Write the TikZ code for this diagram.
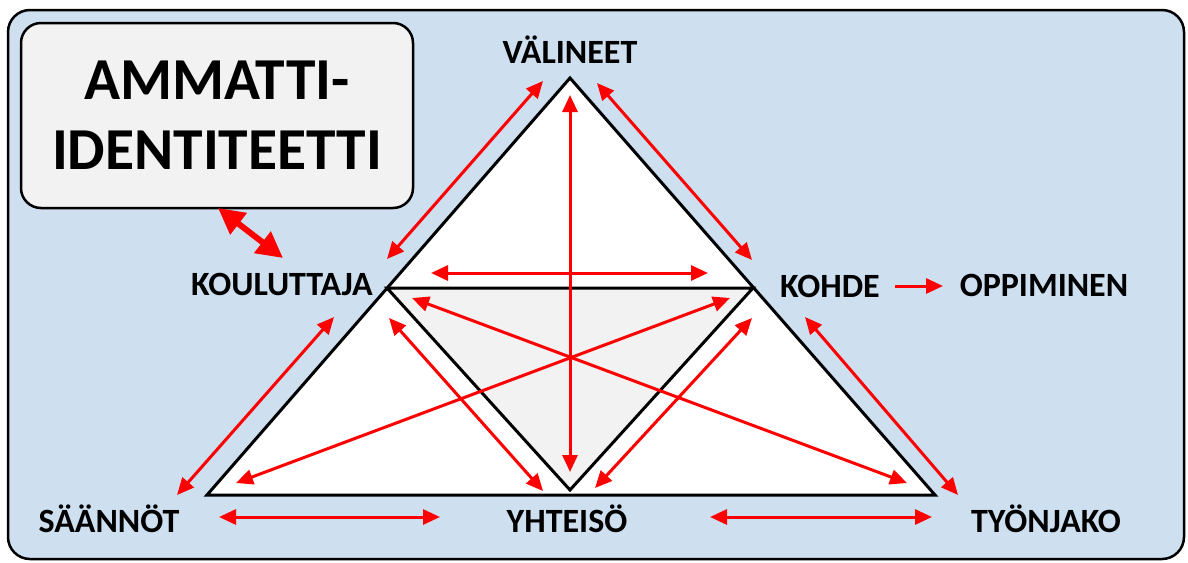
\documentclass[tikz,border=0pt]{standalone}
\usepackage{fontspec}
\setmainfont{Carlito}
\usetikzlibrary{arrows.meta}
\definecolor{bgblue}{RGB}{206,223,240}
\definecolor{boxgray}{RGB}{242,242,242}
\definecolor{arrred}{RGB}{255,0,0}
\begin{document}
\begin{tikzpicture}[x=1pt,y=-1pt,
  lbl/.style={font=\fontsize{34}{40}\selectfont\bfseries, anchor=base, inner sep=0pt},
  idbox/.style={draw=black, line width=2.5pt, fill=boxgray, rounded corners=20pt,
    minimum width=392pt, minimum height=185pt, align=center, inner sep=0pt,
    font=\fontsize{59.5}{70}\selectfont\bfseries},
  tri/.style={draw=black, line width=3pt, line join=miter},
  arr/.style={draw=arrred, line width=3pt,
    {Triangle[length=17pt,width=15pt]}-{Triangle[length=17pt,width=15pt]}},
  arrone/.style={draw=arrred, line width=3pt, -{Triangle[length=17pt,width=15pt]}},
  bigarr/.style={draw=arrred, line width=6pt,
    {Triangle[length=26pt,width=26pt]}-{Triangle[length=26pt,width=26pt]}}]
\useasboundingbox (0,0) rectangle (1188,562);
\draw[fill=bgblue, line width=2.5pt, rounded corners=22pt] (8,10) rectangle (1184,559);

\node[idbox] (id) at (217,115.5) {AMMATTI-\\IDENTITEETTI};

% triangle vertices
\coordinate (V) at (570,78);
\coordinate (K) at (387,288);
\coordinate (H) at (753,288);
\coordinate (S) at (207,495);
\coordinate (T) at (935,495);
\coordinate (Y) at (570,490);

\draw[tri, fill=white] (V) -- (T) -- (S) -- cycle;
\draw[tri, fill=boxgray] (K) -- (H) -- (Y) -- cycle;

% labels
\node[lbl] (lV) at (570,63) {VÄLINEET};
\node[lbl] (lK) at (282,295) {KOULUTTAJA};
\node[lbl] (lH) at (830,297) {KOHDE};
\node[lbl] (lO) at (1044,296) {OPPIMINEN};
\node[lbl] (lS) at (109,532) {SÄÄNNÖT};
\node[lbl] (lY) at (567,532) {YHTEISÖ};
\node[lbl] (lT) at (1046,532) {TYÖNJAKO};

% arrow end points
\coordinate (a1s) at (387,259);  \coordinate (a1e) at (543,81);
\coordinate (a2s) at (597,83);   \coordinate (a2e) at (752,260);
\coordinate (a3s) at (431,273);  \coordinate (a3e) at (708,273);
\coordinate (a4s) at (570,95);   \coordinate (a4e) at (570,472);
\coordinate (a5s) at (895,286);  \coordinate (a5e) at (943,286);
\coordinate (a6s) at (334,317);  \coordinate (a6e) at (177,495);
\coordinate (a7s) at (805,317);  \coordinate (a7e) at (958,495);
\coordinate (a8s) at (219,517);  \coordinate (a8e) at (440,517);
\coordinate (a9s) at (710,517);  \coordinate (a9e) at (932,517);
\coordinate (a10s) at (236,483); \coordinate (a10e) at (730,298);
\coordinate (a11s) at (412,298); \coordinate (a11e) at (907,483);
\coordinate (a12s) at (389,318); \coordinate (a12e) at (543,491);
\coordinate (a13s) at (752,318); \coordinate (a13e) at (595,488);
\coordinate (a14s) at (218,208); \coordinate (a14e) at (283,258);

\draw[arr] (a1s) -- (a1e);
\draw[arr] (a2s) -- (a2e);
\draw[arr] (a3s) -- (a3e);
\draw[arr] (a4s) -- (a4e);
\draw[arrone] (a5s) -- (a5e);
\draw[arr] (a6s) -- (a6e);
\draw[arr] (a7s) -- (a7e);
\draw[arr] (a8s) -- (a8e);
\draw[arr] (a9s) -- (a9e);
\draw[arr] (a10s) -- (a10e);
\draw[arr] (a11s) -- (a11e);
\draw[arr] (a12s) -- (a12e);
\draw[arr] (a13s) -- (a13e);
\draw[bigarr] (a14s) -- (a14e);
\end{tikzpicture}
\end{document}
